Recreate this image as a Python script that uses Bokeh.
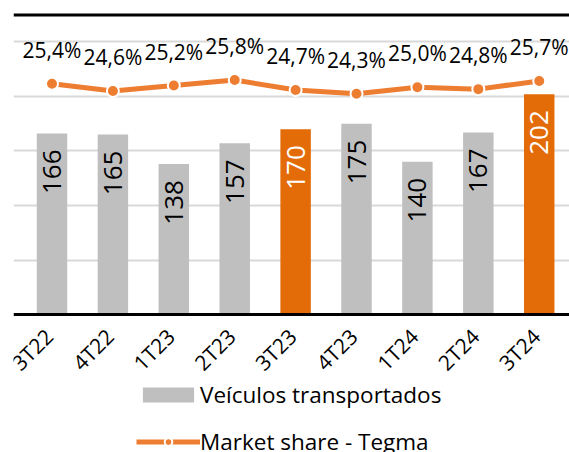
from math import pi
from bokeh.plotting import figure
from bokeh.models import (ColumnDataSource, Range1d, FixedTicker,
                          Legend, LegendItem, Span, LabelSet)
from bokeh.core.properties import value
from bokeh.embed import file_html
from bokeh.resources import INLINE

# ---- data ----
quarters = ["3T22", "4T22", "1T23", "2T23", "3T23", "4T23", "1T24", "2T24", "3T24"]
vehicles = [166, 165, 138, 157, 170, 175, 140, 167, 202]
market_share = [25.4, 24.6, 25.2, 25.8, 24.7, 24.3, 25.0, 24.8, 25.7]
highlighted = ["3T23", "3T24"]
share_labels = [f"{v:.1f}%".replace(".", ",") for v in market_share]
bar_labels = [str(v) for v in vehicles]
grid_values = [50, 100, 150, 200, 250]

GRAY = "#BFBFBF"
DARK_ORANGE = "#E36C09"
LINE_ORANGE = "#ED7D31"
FONT = "Open Sans"

n = len(quarters)
xpos = list(range(n))
bar_colors = [DARK_ORANGE if q in highlighted else GRAY for q in quarters]
label_colors = ["white" if q in highlighted else "black" for q in quarters]
base = [0] * n

src = ColumnDataSource(dict(x=xpos, q=quarters, v=vehicles, s=market_share, sl=share_labels,
                            bl=bar_labels, bc=bar_colors, lc=label_colors, b=base))

# axis scale: 250 units <-> 30 %; frame extends below the baseline to hold labels/legend
Y_TOP = 276
Y_BOTTOM = -126.4
X_START = -0.632
X_END = n - 0.503
p = figure(width=569, height=452, x_range=Range1d(X_START, X_END),
           y_range=Range1d(Y_BOTTOM, Y_TOP), output_backend="svg", toolbar_location=None,
           min_border_left=13, min_border_right=0, min_border_top=13, min_border_bottom=0)
p.extra_y_ranges = {"share": Range1d(Y_BOTTOM * 30 / 250, Y_TOP * 30 / 250)}
p.outline_line_color = None
p.background_fill_color = "white"
p.border_fill_color = "white"
p.xaxis.visible = False
p.yaxis.visible = False

# grid
p.xgrid.grid_line_color = None
p.ygrid.ticker = FixedTicker(ticks=grid_values)
p.ygrid.grid_line_color = "#D9D9D9"
p.ygrid.grid_line_width = 2

# top border line
p.add_layout(Span(location=Y_TOP, dimension="width", line_color="black", line_width=6))

bars = p.vbar(x="x", top="v", width=0.5, source=src, fill_color="bc", line_color=None)
# category baseline
p.add_layout(Span(location=0, dimension="width", line_color="black", line_width=3))

# category labels
p.add_layout(LabelSet(x="x", y="b", text="q", source=src, angle=pi / 4,
                      text_align="right", text_baseline="middle", y_offset=-18, x_offset=-3,
                      text_font=value(FONT), text_font_size="21px", text_color="black"))

# bar value labels
p.add_layout(LabelSet(x="x", y="v", text="bl", source=src, angle=pi / 2,
                      text_align="right", text_baseline="middle", y_offset=-16,
                      text_font=value(FONT), text_font_size="26px", text_color="lc"))

line = p.line(x="x", y="s", source=src, y_range_name="share", line_color=LINE_ORANGE,
              line_width=5)
dots = p.scatter(x="x", y="s", source=src, y_range_name="share", size=12,
                 fill_color=LINE_ORANGE, line_color="white", line_width=2)

p.add_layout(LabelSet(x="x", y="s", text="sl", source=src, y_range_name="share",
                      text_align="center", text_baseline="alphabetic", y_offset=26,
                      text_font=value(FONT), text_font_size="21px", text_color="black"))

legend = Legend(items=[LegendItem(label="Veículos transportados", renderers=[bars], index=0),
                       LegendItem(label="Market share - Tegma", renderers=[line, dots])],
                location=(123, -5), orientation="vertical",
                border_line_color=None, background_fill_alpha=0,
                glyph_width=64, glyph_height=19, label_standoff=0,
                label_text_font=FONT, label_text_font_size="22.5px",
                label_text_color="black",
                label_height=25, spacing=16, padding=0, margin=0)
p.add_layout(legend)

open("out.html", "w").write(file_html(p, INLINE))
